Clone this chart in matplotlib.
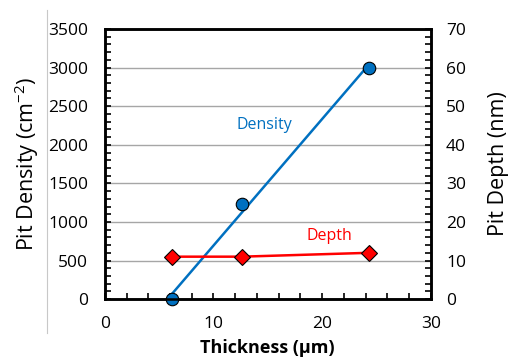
import matplotlib.pyplot as plt
import numpy as np
from matplotlib.ticker import MultipleLocator
from matplotlib.lines import Line2D

thickness = [6.2, 12.6, 24.3]
density = [0, 1230, 3000]
depth = [11, 11, 12]

plt.rcParams['font.family'] = ['Open Sans', 'DejaVu Sans']
plt.rcParams['mathtext.default'] = 'regular'

fig = plt.figure(figsize=(5.14, 3.63), dpi=100)
ax = fig.add_axes([0.204, 0.176, 0.634, 0.744])
ax2 = ax.twinx()

blue = '#0070C0'
red = '#FF0000'

# linear trend through density points
coef = np.polyfit(thickness, density, 1)
xs = np.array([thickness[0], thickness[-1]])
ax.plot(xs, np.polyval(coef, xs), color=blue, lw=1.8, zorder=3)
ax.plot(thickness, density, 'o', color=blue, mec='black', mew=0.8, ms=9, zorder=4, clip_on=False)

ax2.plot(thickness, depth, '-', color=red, lw=1.8, zorder=3)
ax2.plot(thickness, depth, 'D', color=red, mec='black', mew=0.8, ms=8, zorder=4)

ax.set_xlim(0, 30)
ax.set_ylim(0, 3500)
ax2.set_ylim(0, 70)
ax.xaxis.set_major_locator(MultipleLocator(10))
ax.xaxis.set_minor_locator(MultipleLocator(2))
ax.yaxis.set_major_locator(MultipleLocator(500))
ax.yaxis.set_minor_locator(MultipleLocator(100))
ax2.yaxis.set_major_locator(MultipleLocator(10))
ax2.yaxis.set_minor_locator(MultipleLocator(2))

ax.grid(axis='y', color='#a6a6a6', lw=1.0)
ax.set_axisbelow(True)

for a in (ax, ax2):
    for s in a.spines.values():
        s.set_linewidth(1.8)
        s.set_color('black')

ax.tick_params(axis='y', which='both', direction='in', length=4.5, width=1.2, labelsize=12.5, pad=12)
ax.tick_params(axis='x', which='both', direction='in', length=4.5, width=1.2, labelsize=12.5, pad=12)
ax2.tick_params(axis='y', which='both', direction='in', length=4.5, width=1.2, labelsize=12.5, pad=11)

ax.set_ylabel('Pit Density (cm$^{-2}$)', fontsize=15.5, labelpad=5)
ax2.set_ylabel('Pit Depth (nm)', fontsize=15.5, labelpad=16)
ax.set_xlabel('Thickness (µm)', fontsize=13, fontweight='bold', labelpad=5)

ax.text(14.7, 2255, 'Density', color=blue, fontsize=11.5, ha='center', va='center')
ax2.text(20.7, 16.3, 'Depth', color=red, fontsize=11.5, ha='center', va='center')

fig.add_artist(Line2D([47/514, 47/514], [1 - 10/363, 1 - 333/363], color='#c8c8c8', lw=0.8))

fig.savefig('out.png', dpi=100)
